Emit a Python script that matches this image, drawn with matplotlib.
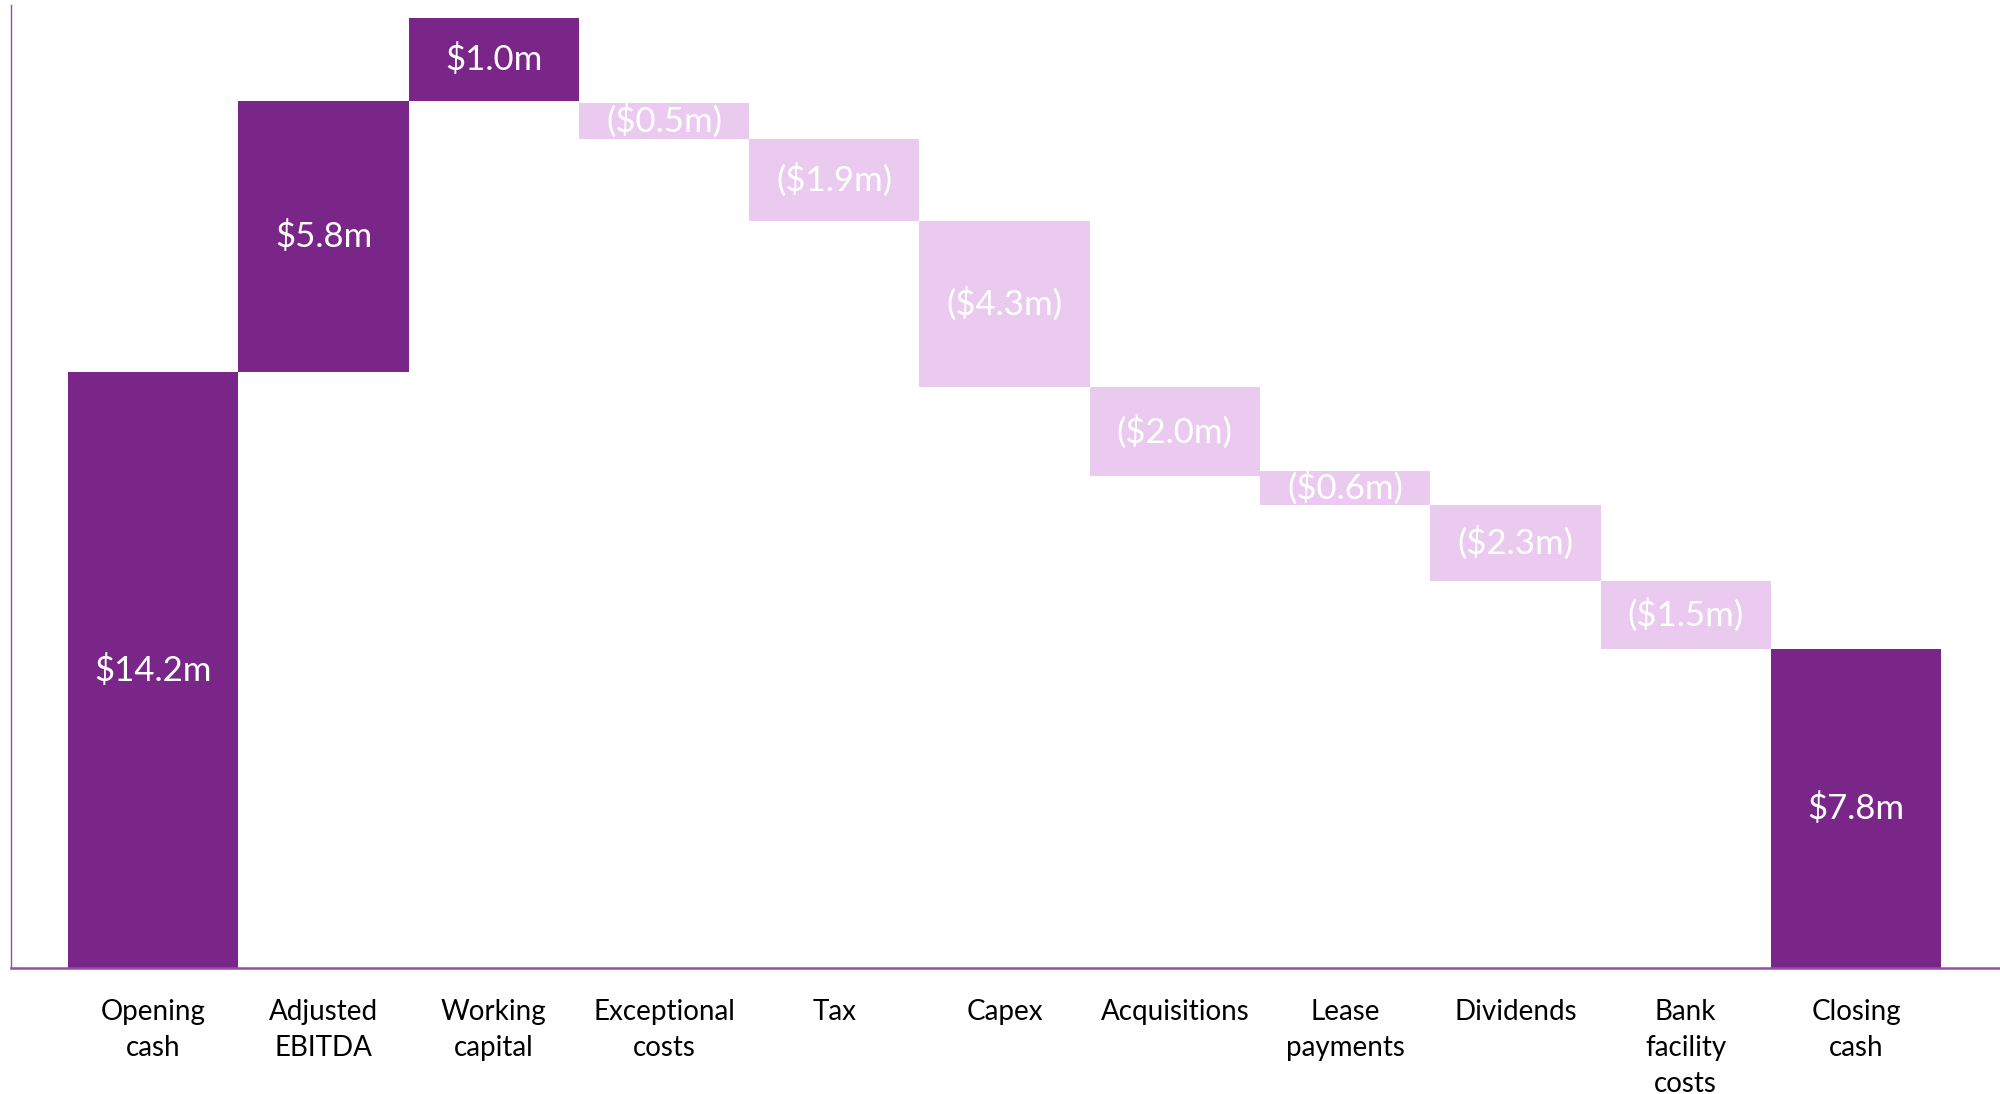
import matplotlib.pyplot as plt

plt.rcParams['font.family'] = ['Lato', 'DejaVu Sans']

categories = ["Opening\ncash", "Adjusted\nEBITDA", "Working\ncapital", "Exceptional\ncosts", "Tax",
              "Capex", "Acquisitions", "Lease\npayments", "Dividends", "Bank\nfacility\ncosts", "Closing\ncash"]
value_labels = ["$14.2m", "$5.8m", "$1.0m", "($0.5m)", "($1.9m)", "($4.3m)",
                "($2.0m)", "($0.6m)", "($2.3m)", "($1.5m)", "$7.8m"]
# bar extents as drawn in the picture ($m)
bar_bottoms = [0, 14.20, 20.66, 19.75, 17.80, 13.84, 11.72, 11.03, 9.22, 7.60, 0]
bar_tops = [14.20, 20.66, 22.64, 20.61, 19.75, 17.80, 13.84, 11.84, 11.03, 9.22, 7.60]
is_outflow = [False, False, False, True, True, True, True, True, True, True, False]

dark = "#7A2588"
light = "#EBCAF0"
axis_col = "#9A4AAE"

fig = plt.figure(figsize=(20, 10.94), dpi=100)
ax = fig.add_axes([0.0055, 0.1152, 0.9945, 0.8802])

x = list(range(len(categories)))
heights = [t - b for b, t in zip(bar_bottoms, bar_tops)]
colors = [light if o else dark for o in is_outflow]
ax.bar(x, heights, bottom=bar_bottoms, width=1.0, color=colors, linewidth=0)

for i in x:
    mid = (bar_bottoms[i] + bar_tops[i]) / 2
    ax.text(i, mid, value_labels[i], ha="center", va="center", color="white", fontsize=25)

ax.set_xlim(-0.835, 10.846)
ax.set_ylim(0, 22.95)
ax.set_xticks(x)
ax.set_xticklabels(categories, fontsize=20, color="black", linespacing=1.46)
ax.tick_params(axis="x", length=0, pad=22.5)
ax.set_yticks([])

for s in ["top", "right"]:
    ax.spines[s].set_visible(False)
ax.spines["left"].set_color(axis_col)
ax.spines["left"].set_linewidth(1.0)
ax.spines["bottom"].set_color(axis_col)
ax.spines["bottom"].set_linewidth(1.8)

fig.savefig("out.png", dpi=100)
